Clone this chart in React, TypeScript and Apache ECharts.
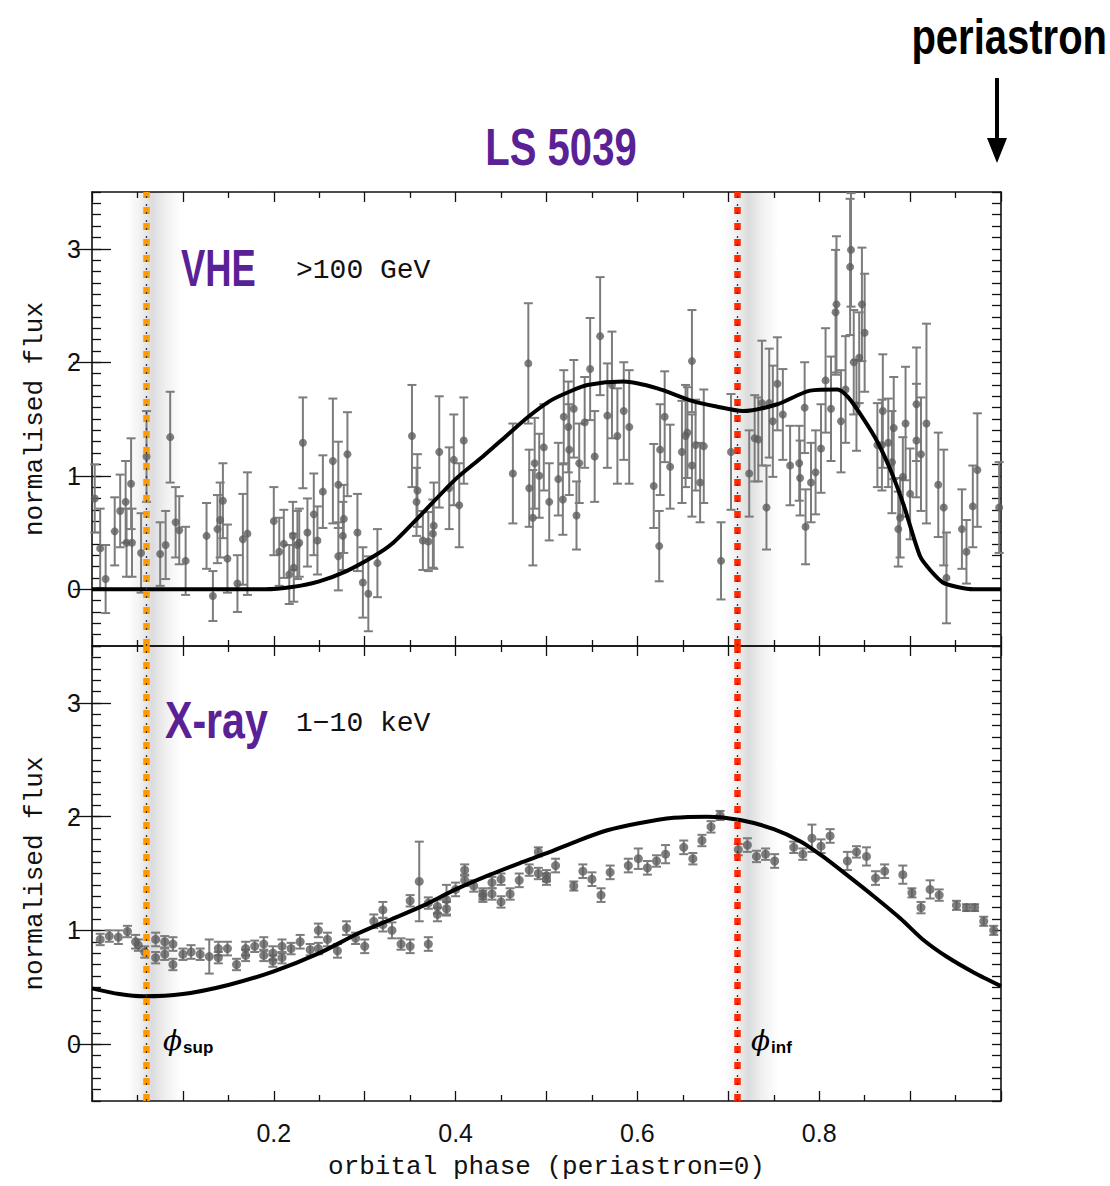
import React, { useEffect, useRef } from "react";
import * as echarts from "echarts";

// ---------------- data ----------------
const PHI_SUP = 0.055;
const PHI_INF = 0.711;

const X_TICK_LABELS = [0.2, 0.4, 0.6, 0.8];
const Y_TICKS = [0, 1, 2, 3];

// VHE (>100 GeV) normalised flux
const vhePhase = [
  0.003, 0.009, 0.015, 0.025, 0.031, 0.037, 0.038, 0.043, 0.044, 0.054, 0.060, 0.075, 0.081, 0.086, 0.092, 0.096, 0.103,
  0.126, 0.133, 0.138, 0.141, 0.144, 0.149, 0.160, 0.166, 0.171, 0.200, 0.206, 0.211, 0.217, 0.221, 0.222, 0.226, 0.228,
  0.232, 0.237, 0.244, 0.248, 0.254, 0.265, 0.271, 0.271, 0.276, 0.277, 0.281, 0.292, 0.298, 0.304, 0.314,
  0.352, 0.357, 0.358, 0.364, 0.370, 0.375, 0.376, 0.382, 0.393, 0.398, 0.404, 0.409,
  0.463, 0.480, 0.481, 0.485, 0.487, 0.492, 0.497, 0.503, 0.513, 0.518, 0.519, 0.524, 0.525, 0.530, 0.533, 0.536,
  0.542, 0.548, 0.553, 0.559, 0.567, 0.572, 0.578, 0.585, 0.591, 0.618, 0.624, 0.625, 0.630, 0.636, 0.649, 0.653,
  0.655, 0.660, 0.660, 0.664, 0.669, 0.673, 0.692, 0.703, 0.723, 0.729, 0.733, 0.737, 0.742, 0.745, 0.749, 0.754,
  0.760, 0.768, 0.778, 0.779, 0.784, 0.785, 0.791, 0.796, 0.802, 0.807, 0.813, 0.818, 0.819, 0.824, 0.829, 0.834,
  0.835, 0.838, 0.841, 0.844, 0.847, 0.850, 0.864, 0.869, 0.870, 0.876, 0.880, 0.882, 0.887, 0.889, 0.892, 0.895,
  0.900, 0.907, 0.907, 0.912, 0.918, 0.931, 0.937, 0.940, 0.957, 0.962, 0.969, 0.974, 0.998,
];
const vheFlux = [
  0.80, 0.36, 0.09, 0.51, 0.69, 0.77, 0.41, 0.93, 0.41, 0.32, 1.17, 0.31, 0.39, 1.34, 0.59, 0.52, 0.25,
  0.47, -0.06, 0.53, 0.61, 0.78, 0.27, 0.05, 0.44, 0.49, 0.60, 0.33, 0.40, 0.13, 0.47, 0.19, 0.39, 0.41,
  1.29, 0.50, 0.66, 0.43, 0.86, 1.13, 0.92, 0.29, 0.47, 0.62, 1.19, 0.50, 0.06, -0.04, 0.23,
  1.35, 0.77, 0.87, 0.43, 0.42, 0.49, 0.56, 1.21, 0.89, 1.14, 0.74, 1.31,
  1.02, 1.99, 0.89, 0.63, 1.11, 1.00, 1.25, 0.77, 0.97, 0.79, 1.52, 1.43, 1.23, 1.59, 0.65, 1.11,
  1.47, 1.94, 1.17, 2.23, 1.53, 1.80, 1.35, 1.57, 1.43, 0.91, 0.38, 1.23, 1.52, 1.08, 1.21, 1.35,
  1.38, 2.01, 1.09, 1.27, 0.94, 1.26, 0.25, 1.21, 1.02, 1.33, 1.32, 1.64, 0.72, 1.64, 1.48, 1.81,
  1.54, 1.09, 1.11, 0.98, 1.60, 0.55, 0.94, 1.03, 1.24, 1.84, 1.59, 2.44, 2.51, 1.48, 1.76, 2.84,
  2.99, 2.00, 1.62, 2.04, 2.51, 2.26, 1.27, 1.27, 1.57, 1.29, 1.12, 1.42, 0.53, 0.63, 0.99, 1.46,
  0.84, 1.63, 1.31, 1.19, 1.46, 0.92, 0.72, 0.10, 0.53, 0.33, 0.73, 1.05, 0.72,
];
const vheErr = [
  0.30, 0.35, 0.30, 0.30, 0.32, 0.36, 0.30, 0.40, 0.30, 0.35, 0.40, 0.28, 0.30, 0.40, 0.31, 0.30, 0.30,
  0.29, 0.22, 0.30, 0.33, 0.33, 0.30, 0.25, 0.40, 0.54, 0.30, 0.30, 0.30, 0.26, 0.30, 0.30, 0.30, 0.30,
  0.40, 0.30, 0.36, 0.30, 0.32, 0.55, 0.38, 0.30, 0.30, 0.30, 0.37, 0.34, 0.31, 0.33, 0.30,
  0.45, 0.30, 0.32, 0.26, 0.26, 0.30, 0.38, 0.49, 0.36, 0.40, 0.37, 0.38,
  0.44, 0.53, 0.34, 0.42, 0.40, 0.37, 0.38, 0.34, 0.32, 0.31, 0.41, 0.40, 0.40, 0.43, 0.30, 0.35,
  0.40, 0.45, 0.40, 0.52, 0.46, 0.47, 0.42, 0.43, 0.50, 0.37, 0.31, 0.40, 0.40, 0.37, 0.45, 0.45,
  0.40, 0.45, 0.45, 0.40, 0.35, 0.50, 0.34, 0.51, 0.38, 0.38, 0.37, 0.55, 0.37, 0.48, 0.49, 0.41,
  0.40, 0.35, 0.33, 0.33, 0.40, 0.33, 0.35, 0.37, 0.39, 0.46, 0.46, 0.55, 0.60, 0.45, 0.47, 0.60,
  0.50, 0.46, 0.40, 0.40, 0.50, 0.52, 0.37, 0.40, 0.50, 0.39, 0.45, 0.45, 0.33, 0.35, 0.35, 0.50,
  0.40, 0.50, 0.50, 0.50, 0.88, 0.46, 0.51, 0.40, 0.35, 0.28, 0.36, 0.50, 0.40,
];

// X-ray (1-10 keV) normalised flux
const xrayPhase = [
  0.009, 0.019, 0.029, 0.039, 0.048, 0.051, 0.058, 0.070, 0.070, 0.080, 0.080, 0.089, 0.089, 0.100, 0.109, 0.119,
  0.129, 0.139, 0.139, 0.149, 0.159, 0.169, 0.169, 0.179, 0.189, 0.189, 0.199, 0.199, 0.209, 0.209, 0.219, 0.229,
  0.240, 0.249, 0.249, 0.259, 0.270, 0.280, 0.290, 0.300, 0.310, 0.320, 0.320, 0.330, 0.340, 0.350, 0.350, 0.360,
  0.370, 0.370, 0.380, 0.380, 0.390, 0.390, 0.400, 0.410, 0.410, 0.420, 0.430, 0.430, 0.440, 0.440, 0.450, 0.450,
  0.460, 0.470, 0.481, 0.491, 0.491, 0.500, 0.500, 0.510, 0.530, 0.540, 0.550, 0.560, 0.570, 0.590, 0.601, 0.611,
  0.621, 0.631, 0.651, 0.661, 0.671, 0.681, 0.691, 0.711, 0.721, 0.731, 0.741, 0.751, 0.772, 0.782, 0.792, 0.802,
  0.812, 0.831, 0.841, 0.852, 0.862, 0.872, 0.892, 0.902, 0.912, 0.922, 0.932, 0.951, 0.962, 0.971, 0.981, 0.992,
];
const xrayFlux = [
  0.92, 0.95, 0.94, 0.99, 0.90, 0.87, 0.81, 0.92, 0.76, 0.90, 0.79, 0.88, 0.70, 0.79, 0.81, 0.79,
  0.77, 0.84, 0.76, 0.84, 0.70, 0.84, 0.78, 0.86, 0.88, 0.78, 0.80, 0.73, 0.86, 0.76, 0.84, 0.90,
  0.83, 1.00, 0.84, 0.92, 0.82, 1.02, 0.93, 0.86, 1.08, 1.18, 1.05, 1.00, 0.88, 0.86, 1.26, 1.43,
  0.88, 1.24, 1.21, 1.14, 1.19, 1.27, 1.36, 1.53, 1.44, 1.39, 1.32, 1.30, 1.42, 1.32, 1.45, 1.25,
  1.32, 1.44, 1.53, 1.69, 1.50, 1.48, 1.45, 1.57, 1.39, 1.52, 1.45, 1.31, 1.51, 1.57, 1.63, 1.55,
  1.61, 1.67, 1.73, 1.63, 1.79, 1.91, 2.01, 1.71, 1.75, 1.65, 1.67, 1.61, 1.73, 1.67, 1.81, 1.74,
  1.83, 1.61, 1.69, 1.65, 1.46, 1.52, 1.49, 1.33, 1.20, 1.36, 1.31, 1.22, 1.20, 1.20, 1.08, 1.00,
];
const xrayErr = [
  0.05, 0.05, 0.06, 0.05, 0.06, 0.05, 0.05, 0.06, 0.05, 0.05, 0.05, 0.06, 0.05, 0.05, 0.06, 0.05,
  0.15, 0.06, 0.05, 0.06, 0.05, 0.06, 0.05, 0.05, 0.06, 0.05, 0.06, 0.05, 0.06, 0.05, 0.05, 0.06,
  0.05, 0.06, 0.05, 0.06, 0.06, 0.06, 0.05, 0.06, 0.06, 0.07, 0.06, 0.07, 0.05, 0.06, 0.05, 0.35,
  0.06, 0.05, 0.06, 0.06, 0.06, 0.13, 0.06, 0.05, 0.05, 0.05, 0.05, 0.05, 0.05, 0.05, 0.05, 0.05,
  0.05, 0.06, 0.05, 0.04, 0.05, 0.05, 0.05, 0.06, 0.04, 0.06, 0.06, 0.06, 0.06, 0.06, 0.09, 0.06,
  0.05, 0.08, 0.06, 0.05, 0.05, 0.05, 0.04, 0.05, 0.06, 0.05, 0.05, 0.06, 0.05, 0.05, 0.12, 0.06,
  0.06, 0.08, 0.05, 0.08, 0.06, 0.06, 0.08, 0.04, 0.05, 0.08, 0.05, 0.04, 0.03, 0.03, 0.04, 0.04,
];

// model curves
const vheModelPhase = [
  0.0, 0.1, 0.19, 0.22, 0.25, 0.28, 0.31, 0.33, 0.36, 0.40, 0.43, 0.457, 0.48, 0.504, 0.525, 0.545, 0.585,
  0.622, 0.66, 0.687, 0.716, 0.754, 0.79, 0.82, 0.832, 0.848, 0.864, 0.879, 0.893, 0.911, 0.922, 0.936,
  0.952, 0.97, 1.0,
];
const vheModelFlux = [
  0.0, 0.0, 0.0, 0.02, 0.07, 0.16, 0.29, 0.40, 0.64, 0.97, 1.17, 1.36, 1.52, 1.66, 1.74, 1.80, 1.83,
  1.77, 1.66, 1.61, 1.57, 1.63, 1.75, 1.76, 1.69, 1.51, 1.30, 1.04, 0.74, 0.29, 0.17, 0.06,
  0.02, 0.0, 0.0,
];
const xrayModelPhase = [
  0.0, 0.03, 0.057, 0.1, 0.15, 0.2, 0.25, 0.292, 0.33, 0.365, 0.4, 0.438, 0.47, 0.504, 0.535, 0.567, 0.6,
  0.64, 0.677, 0.713, 0.75, 0.78, 0.804, 0.83, 0.86, 0.89, 0.914, 0.94, 0.97, 1.0,
];
const xrayModelFlux = [
  0.49, 0.44, 0.42, 0.44, 0.52, 0.64, 0.80, 0.97, 1.10, 1.22, 1.36, 1.49, 1.59, 1.69, 1.79, 1.88, 1.94,
  1.99, 2.0, 1.97, 1.89, 1.78, 1.65, 1.49, 1.30, 1.10, 0.92, 0.77, 0.63, 0.51,
];

// ---------------- styles ----------------
const PURPLE = "#5a2196";
const ORANGE = "#ff9a00";
const RED = "#ff2a00";
const POINT = "#5e5e5e";
const ERRBAR = "#7c7c7c";
const AXIS = "#111111";
const SERIF = "'Liberation Mono', 'DejaVu Sans Mono', monospace";
const SANS = "'Liberation Sans', Arial, sans-serif";
const NARROW = "'Liberation Sans Narrow', 'Liberation Sans', Arial, sans-serif";

const zip = (a: number[], b: number[]) => a.map((v, i) => [v, b[i]]);
const errData = (p: number[], f: number[], e: number[]) => p.map((v, i) => [v, f[i], f[i] - e[i], f[i] + e[i]]);

const errRender = (params: any, api: any) => {
  const x = api.value(0);
  const lo = api.coord([x, api.value(2)]);
  const hi = api.coord([x, api.value(3)]);
  const c = 4.5;
  const st = { stroke: ERRBAR, lineWidth: 2 };
  return {
    type: "group",
    children: [
      { type: "line", shape: { x1: lo[0], y1: lo[1], x2: hi[0], y2: hi[1] }, style: st },
      { type: "line", shape: { x1: lo[0] - c, y1: lo[1], x2: lo[0] + c, y2: lo[1] }, style: st },
      { type: "line", shape: { x1: hi[0] - c, y1: hi[1], x2: hi[0] + c, y2: hi[1] }, style: st },
    ],
  };
};

const axisLine = { show: true, onZero: false, lineStyle: { color: AXIS, width: 1.6 } };

function xAxisDef(gridIndex: number, position: string, labels: boolean) {
  const ax: any = {
    type: "value",
    gridIndex,
    position,
    min: 0,
    max: 1,
    interval: 0.1,
    axisLine,
    axisTick: { show: true, inside: true, length: 10, lineStyle: { color: AXIS, width: 1.3 } },
    minorTick: { show: true, splitNumber: 2, length: 6, lineStyle: { color: AXIS, width: 1.3 } },
    splitLine: { show: false },
    minorSplitLine: { show: false },
    axisLabel: { show: false },
  };
  if (labels) {
    ax.axisLabel = {
      show: true,
      margin: 19,
      fontFamily: SANS,
      fontSize: 25,
      color: AXIS,
      showMinLabel: false,
      showMaxLabel: false,
      formatter: (v: number) => (X_TICK_LABELS.some((t) => Math.abs(t - v) < 1e-6) ? v.toFixed(1) : ""),
    };
    ax.name = "orbital phase (periastron=0)";
    ax.nameLocation = "middle";
    ax.nameGap = 53;
    ax.nameTextStyle = { fontFamily: SERIF, fontSize: 26, color: AXIS };
  }
  return ax;
}

function yAxesDef(gridIndex: number, position: string, labels: boolean) {
  const minor: any = {
    type: "value",
    gridIndex,
    position,
    min: -0.5,
    max: 3.5,
    interval: 0.1,
    axisLine,
    axisTick: { show: true, inside: true, length: 9, lineStyle: { color: AXIS, width: 1.3 } },
    axisLabel: { show: false },
    splitLine: { show: false },
  };
  const major: any = {
    type: "value",
    gridIndex,
    position,
    min: -0.5,
    max: 3.5,
    axisLine: { show: false },
    axisTick: { show: true, inside: true, length: 19, customValues: Y_TICKS, lineStyle: { color: AXIS, width: 1.3 } },
    axisLabel: labels
      ? {
          show: true,
          customValues: Y_TICKS,
          margin: 11,
          fontFamily: SANS,
          fontSize: 25,
          color: AXIS,
          formatter: (v: number) => (Math.abs(v - Math.round(v)) < 1e-6 ? String(Math.round(v)) : ""),
        }
      : { show: false },
    splitLine: { show: false },
  };
  if (labels) {
    major.name = "normalised flux";
    major.nameLocation = "middle";
    major.nameGap = 44;
    major.nameRotate = 90;
    major.nameTextStyle = { fontFamily: SERIF, fontSize: 26, color: AXIS };
  }
  return [minor, major];
}

const band = () =>
  new echarts.graphic.LinearGradient(0, 0, 1, 0, [
    { offset: 0, color: "rgba(0,0,0,0)" },
    { offset: 0.25, color: "rgba(0,0,0,0.06)" },
    { offset: 0.45, color: "rgba(0,0,0,0.14)" },
    { offset: 0.7, color: "rgba(0,0,0,0.06)" },
    { offset: 1, color: "rgba(0,0,0,0)" },
  ]);

const marks = () => ({
  markArea: {
    silent: true,
    data: [
      [{ xAxis: PHI_SUP - 0.016, itemStyle: { color: band() } }, { xAxis: PHI_SUP + 0.044 }],
      [{ xAxis: PHI_INF - 0.016, itemStyle: { color: band() } }, { xAxis: PHI_INF + 0.044 }],
    ],
  },
  markLine: {
    silent: true,
    symbol: ["none", "none"],
    label: { show: false },
    data: [
      { xAxis: PHI_SUP, lineStyle: { color: ORANGE, width: 6.5, type: [7, 9] } },
      { xAxis: PHI_SUP, lineStyle: { color: "#333", width: 1.3, type: [2, 6] } },
      { xAxis: PHI_INF, lineStyle: { color: RED, width: 6.5, type: [7, 9] } },
      { xAxis: PHI_INF, lineStyle: { color: "#333", width: 1.3, type: [2, 6] } },
    ],
  },
});

function panelSeries(grid: number, ph: number[], fl: number[], er: number[], mp: number[], mf: number[], sym: number) {
  const xi = grid * 2;
  const yi = grid * 4;
  return [
    {
      type: "custom",
      xAxisIndex: xi,
      yAxisIndex: yi,
      renderItem: errRender,
      data: errData(ph, fl, er),
      encode: { x: 0, y: [1, 2, 3] },
      z: 2,
      silent: true,
    },
    {
      type: "scatter",
      xAxisIndex: xi,
      yAxisIndex: yi,
      data: zip(ph, fl),
      symbol: "circle",
      symbolSize: sym,
      itemStyle: { color: POINT },
      z: 3,
      silent: true,
    },
    {
      type: "line",
      xAxisIndex: xi,
      yAxisIndex: yi,
      data: zip(mp, mf),
      smooth: 0.25,
      showSymbol: false,
      symbol: "none",
      lineStyle: { color: "#000", width: 4 },
      z: 4,
      silent: true,
      ...marks(),
    },
  ];
}

const boldText = (text: string, x: number, y: number, size: number, sx: number, align: string, fill: string) => ({
  type: "text",
  x,
  y,
  scaleX: sx,
  z: 20,
  style: { text, fill, fontFamily: NARROW, fontWeight: "bold", fontSize: size, align, verticalAlign: "middle" },
});

const phiRich = {
  p: { fontFamily: "'DejaVu Serif', serif", fontStyle: "italic", fontSize: 28, color: AXIS },
  s: { fontFamily: SANS, fontSize: 17, fontWeight: "bold", color: AXIS, padding: [14, 0, 0, 1] },
};

export default function App() {
  const ref = useRef<HTMLDivElement>(null);
  useEffect(() => {
    if (!ref.current) return;
    const chart = echarts.init(ref.current, undefined, { renderer: "svg" });
    const [y0a, y0b] = yAxesDef(0, "left", true);
    const [y0c, y0d] = yAxesDef(0, "right", false);
    const [y1a, y1b] = yAxesDef(1, "left", true);
    const [y1c, y1d] = yAxesDef(1, "right", false);
    const option: any = {
      animation: false,
      backgroundColor: "#ffffff",
      grid: [
        { left: 92, top: 192, width: 909, height: 454 },
        { left: 92, top: 646, width: 909, height: 455 },
      ],
      xAxis: [xAxisDef(0, "bottom", false), xAxisDef(0, "top", false), xAxisDef(1, "bottom", true), xAxisDef(1, "top", false)],
      yAxis: [y0a, y0b, y0c, y0d, y1a, y1b, y1c, y1d],
      series: [
        ...panelSeries(0, vhePhase, vheFlux, vheErr, vheModelPhase, vheModelFlux, 8),
        ...panelSeries(1, xrayPhase, xrayFlux, xrayErr, xrayModelPhase, xrayModelFlux, 9),
      ],
      graphic: [
        boldText("LS 5039", 561, 147, 52, 0.77, "center", PURPLE),
        boldText("periastron", 1107, 37, 50, 0.8, "right", "#000"),
        { type: "line", shape: { x1: 997, y1: 78, x2: 997, y2: 145 }, style: { stroke: "#000", lineWidth: 4 } },
        { type: "polygon", shape: { points: [[987, 138], [1007, 138], [997, 163]] }, style: { fill: "#000" } },
        boldText("VHE", 181, 268, 52, 0.7, "left", PURPLE),
        {
          type: "text",
          x: 296,
          y: 270,
          z: 20,
          style: { text: ">100 GeV", fill: AXIS, fontFamily: SERIF, fontSize: 28, align: "left", verticalAlign: "middle" },
        },
        boldText("X-ray", 165, 720, 52, 0.79, "left", PURPLE),
        {
          type: "text",
          x: 296,
          y: 723,
          z: 20,
          style: { text: "1\u221210 keV", fill: AXIS, fontFamily: SERIF, fontSize: 28, align: "left", verticalAlign: "middle" },
        },
        {
          type: "text",
          x: 163,
          y: 1040,
          z: 20,
          style: { text: "{p|\u03d5}{s|sup}", align: "left", verticalAlign: "middle", rich: phiRich },
        },
        {
          type: "text",
          x: 751,
          y: 1040,
          z: 20,
          style: { text: "{p|\u03d5}{s|inf}", align: "left", verticalAlign: "middle", rich: phiRich },
        },
      ],
    };
    chart.setOption(option);
    return () => chart.dispose();
  }, []);
  return <div ref={ref} style={{ position: "absolute", left: 0, top: 0, width: 1110, height: 1186 }} />;
}
